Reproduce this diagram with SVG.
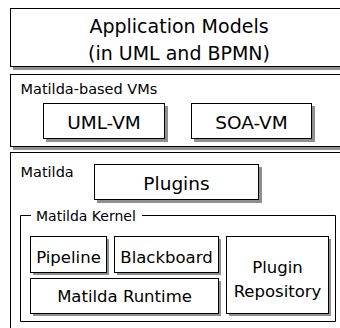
<svg xmlns="http://www.w3.org/2000/svg" width="340" height="328" viewBox="0 0 340 328">
<defs>
<style>
.box{fill:#fff;stroke:#000;stroke-width:1}
.sh{fill:#8f8f8f;stroke:none}
.frame{fill:none;stroke:#000;stroke-width:1}
text{font-family:"DejaVu Sans","Verdana",sans-serif;fill:#000}
.title{font-size:19px;text-anchor:middle}
.hdr{font-size:14.5px}
.big{font-size:18.5px;text-anchor:middle}
.mid{font-size:16.5px;text-anchor:middle}
</style>
</defs>
<rect width="340" height="328" fill="#fff"/>
<g id="app-models">
<rect class="sh" x="13" y="11" width="340" height="59"/>
<rect class="box" x="10.5" y="8.5" width="340" height="58"/>
<text class="title" x="179" y="33">Application Models</text>
<text class="title" x="179" y="60">(in UML and BPMN)</text>
</g>
<g id="vms">
<rect class="sh" x="13" y="77" width="340" height="73"/>
<rect class="box" x="10.5" y="74.5" width="340" height="72"/>
<text class="hdr" x="20.5" y="94">Matilda-based VMs</text>
</g>
<g id="uml-vm">
<rect class="sh" x="46" y="106" width="122" height="36"/>
<rect class="box" x="43.5" y="103.5" width="121" height="35"/>
<text class="big" x="104" y="129">UML-VM</text>
</g>
<g id="soa-vm">
<rect class="sh" x="194" y="106" width="121" height="36"/>
<rect class="box" x="191.5" y="103.5" width="120" height="35"/>
<text class="big" x="251.5" y="129">SOA-VM</text>
</g>
<g id="matilda">
<rect class="sh" x="13" y="155" width="340" height="200"/>
<rect class="box" x="10.5" y="152.5" width="340" height="200"/>
<text class="hdr" x="20.5" y="177">Matilda</text>
</g>
<g id="plugins">
<rect class="sh" x="97" y="167" width="165" height="36"/>
<rect class="box" x="94.5" y="164.5" width="164" height="35"/>
<text class="big" x="176.5" y="190">Plugins</text>
</g>
<g id="kernel">
<path class="frame" d="M31 215.5H20.5V321.5H335.5V215.5H142"/>
<text class="hdr" x="36" y="221" style="font-size:14px">Matilda Kernel</text>
</g>
<g id="pipeline">
<rect class="sh" x="33" y="239" width="76" height="36"/>
<rect class="box" x="30.5" y="236.5" width="76" height="36"/>
<text class="mid" x="68.5" y="263">Pipeline</text>
</g>
<g id="blackboard">
<rect class="sh" x="117" y="239" width="104" height="36"/>
<rect class="box" x="114.5" y="236.5" width="104" height="36"/>
<text class="mid" x="166.5" y="263">Blackboard</text>
</g>
<g id="runtime">
<rect class="sh" x="33" y="281" width="188" height="35"/>
<rect class="box" x="30.5" y="278.5" width="188" height="35"/>
<text class="mid" x="124.5" y="302">Matilda Runtime</text>
</g>
<g id="plugin-repository">
<rect class="sh" x="229" y="239" width="102" height="77"/>
<rect class="box" x="226.5" y="236.5" width="102" height="77"/>
<text class="mid" x="277.5" y="273">Plugin</text>
<text class="mid" x="277.5" y="297">Repository</text>
</g>
<g id="connectors"/>
</svg>
